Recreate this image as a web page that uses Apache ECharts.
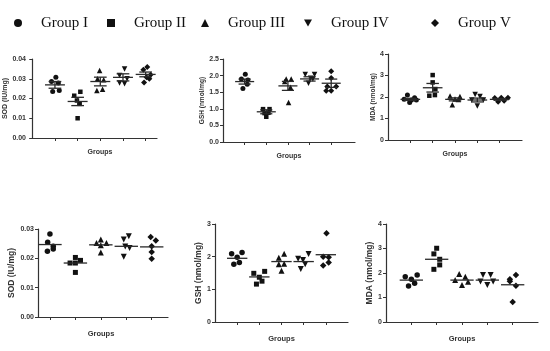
<!DOCTYPE html>
<html>
<head>
<meta charset="utf-8">
<script src="https://cdn.jsdelivr.net/npm/echarts@6/dist/echarts.min.js"></script>
<style>html,body{margin:0;padding:0;background:#fff}#c{width:550px;height:351px}</style>
</head>
<body>
<div id="c"></div>
<script>
// ---------- data ----------
const groups = ['Group I', 'Group II', 'Group III', 'Group IV', 'Group V'];
const xTicks = [1, 2, 3, 4, 5];

const sodTopVals = [[0.0307,0.0286,0.0278,0.0236,0.0241],[0.0234,0.0214,0.0190,0.0173,0.0100],[0.0342,0.0300,0.0295,0.0240,0.0247],[0.0349,0.0317,0.0300,0.0278,0.0275],[0.0360,0.0346,0.0320,0.0307,0.0300,0.0281]];
const sodTopJit  = [[0.04,-0.15,0.15,-0.1,0.19],[0.12,-0.15,-0.03,0.09,0],[-0.03,-0.12,0.15,-0.15,0.1],[0.07,-0.15,0.18,-0.15,0.07],[0.07,-0.1,0.22,0.04,0.16,-0.07]];
const sodTopMean = [0.0269,0.0185,0.0286,0.0307,0.0322];
const sodTopSem  = [0.0017,0.0021,0.0022,0.0018,0.0012];

const gshTopVals = [[2.04,1.90,1.87,1.74,1.61],[0.99,0.99,0.87,0.88,0.76],[1.90,1.90,1.82,1.65,1.19],[2.03,2.03,1.92,1.77,1.90],[2.13,1.93,1.67,1.67,1.54,1.54]];
const gshTopJit  = [[0.03,-0.15,0.15,0.12,-0.08],[-0.15,0.15,-0.08,0.1,0],[-0.08,0.15,-0.15,0.12,0.03],[-0.2,0.23,0.05,-0.05,0.15],[0,0,-0.18,0.23,0,-0.23]];
const gshTopMean = [1.82,0.91,1.69,1.90,1.77];
const gshTopSem  = [0.075,0.06,0.135,0.065,0.125];

const mdaTopVals = [[2.09,1.97,1.89,1.86,1.86,1.74],[3.02,2.68,2.37,2.06,2.09],[2.05,2.02,1.91,1.64,1.88],[2.12,2.02,1.86,1.86,1.58],[1.95,1.97,1.97,1.78,1.82]];
const mdaTopJit  = [[-0.13,0.19,-0.28,0.05,0.27,-0.03],[0,0,0.12,-0.15,0.1],[-0.22,0.22,0,-0.12,0.15],[-0.1,0.12,-0.25,0.27,0],[-0.22,0.07,0.37,-0.07,0.2]];
const mdaTopMean = [1.89,2.43,1.89,1.86,1.89];
const mdaTopSem  = [0.05,0.2,0.07,0.09,0.04];

const sodBotVals = [[0.0283,0.0255,0.0241,0.0232,0.0224],[0.0203,0.0193,0.0184,0.0184,0.0152],[0.0264,0.0252,0.0252,0.0245,0.0220],[0.0275,0.0264,0.0235,0.0240,0.0205],[0.0273,0.0261,0.0241,0.0222,0.0199]];
const sodBotJit  = [[0,-0.09,0.13,0.13,-0.1],[0,0.2,-0.21,0,0],[0,-0.17,0.22,0,0],[0.1,-0.1,0.13,-0.04,-0.1],[-0.04,0.16,0,0,0]];
const sodBotMean = [0.0247,0.0184,0.0246,0.0241,0.0239];

const gshBotVals = [[2.09,2.13,1.98,1.77,1.82],[1.49,1.55,1.37,1.25,1.16],[1.97,2.09,1.77,1.78,1.57],[1.94,1.90,2.08,1.77,1.62],[2.72,2.00,1.98,1.82,1.73]];
const gshBotJit  = [[-0.25,0.22,0,-0.15,0.1],[-0.25,0.24,0,0.12,-0.13],[-0.12,0.12,-0.12,0.12,0],[-0.25,-0.03,0.22,0.07,-0.13],[0.03,-0.12,0.13,0.13,-0.12]];
const gshBotMean = [1.95,1.38,1.85,1.85,2.06];

const mdaBotVals = [[1.85,1.92,1.74,1.58,1.47],[3.01,2.78,2.56,2.33,2.15],[1.96,1.85,1.71,1.64,1.51],[1.92,1.92,1.65,1.65,1.51],[1.74,1.66,1.92,1.48,0.82]];
const mdaBotJit  = [[-0.24,0.23,0,0.13,-0.11],[0,-0.11,0.12,0.12,-0.11],[-0.11,0.13,-0.27,0.24,0],[-0.17,0.13,-0.27,0.23,0],[-0.11,-0.11,0.13,0.13,0]];
const mdaBotMean = [1.71,2.56,1.71,1.71,1.52];

// ---------- layout / style ----------
const symbols = ['circle', 'rect', 'triangle', 'path://M0,0L10,0L5,9Z', 'diamond'];
const symSizeTop = [5, 4.5, 5.5, 5.5, 6];
const symSizeBot = [5.5, 5, 6, 6, 6.5];

const panels = [
  {vals: sodTopVals, jit: sodTopJit, mean: sodTopMean, sem: sodTopSem, name: 'SOD (IU/mg)',
   left: 30, top: 59, width: 127, height: 79, xMin: -0.1, xMax: 5.5, yMax: 0.04, yInt: 0.01, dec: 2,
   nameGap: 15, nameSize: 7, gGap: 11, gShift: 13, sym: symSizeTop},
  {vals: gshTopVals, jit: gshTopJit, mean: gshTopMean, sem: gshTopSem, name: 'GSH (nmol/mg)',
   left: 223, top: 59, width: 132, height: 83, xMin: 0, xMax: 6.1, yMax: 2.5, yInt: 0.5, dec: 1,
   nameGap: 14, nameSize: 6.5, gGap: 11, gShift: 0, sym: symSizeTop},
  {vals: mdaTopVals, jit: mdaTopJit, mean: mdaTopMean, sem: mdaTopSem, name: 'MDA (nmol/mg)',
   left: 388, top: 54, width: 134, height: 86, xMin: 0, xMax: 6, yMax: 4, yInt: 1, dec: 0,
   nameGap: 11.5, nameSize: 6.5, gGap: 11, gShift: 0, sym: symSizeTop},
  {vals: sodBotVals, jit: sodBotJit, mean: sodBotMean, sem: null, name: 'SOD (IU/mg)',
   left: 38, top: 229, width: 130, height: 88, xMin: 0.53, xMax: 5.64, yMax: 0.03, yInt: 0.01, dec: 2,
   nameGap: 19, nameSize: 8.5, gGap: 13, gShift: -4, sym: symSizeBot},
  {vals: gshBotVals, jit: gshBotJit, mean: gshBotMean, sem: null, name: 'GSH (nmol/mg)',
   left: 215, top: 224, width: 133, height: 98, xMin: 0, xMax: 6, yMax: 3, yInt: 1, dec: 0,
   nameGap: 11, nameSize: 8.5, gGap: 13, gShift: 0, sym: symSizeBot},
  {vals: mdaBotVals, jit: mdaBotJit, mean: mdaBotMean, sem: null, name: 'MDA (nmol/mg)',
   left: 386, top: 224, width: 152, height: 98, xMin: 0, xMax: 6, yMax: 4, yInt: 1, dec: 0,
   nameGap: 10, nameSize: 8.5, gGap: 13, gShift: 0, sym: symSizeBot}
];

const FONT = '"Liberation Sans", Arial, sans-serif';
const axisCol = '#333';

const grid = [], xAxis = [], yAxis = [], series = [];
panels.forEach((p, i) => {
  grid.push({left: p.left, top: p.top, width: p.width, height: p.height, outerBoundsMode: 'none', containLabel: false});
  xAxis.push({
    type: 'value', gridIndex: i, min: p.xMin, max: p.xMax,
    name: 'Groups', nameLocation: 'middle', nameGap: p.gGap,
    nameTextStyle: {fontFamily: FONT, fontWeight: 'bold', fontSize: i < 3 ? 7 : 7.5, color: '#333',
      padding: p.gShift >= 0 ? [0, 0, 0, p.gShift] : [0, -p.gShift, 0, 0]},
    axisLine: {show: true, lineStyle: {color: axisCol, width: 1.2}},
    axisTick: {show: true, length: 3, lineStyle: {color: axisCol}, customValues: xTicks},
    axisLabel: {show: false}, splitLine: {show: false}
  });
  yAxis.push({
    type: 'value', gridIndex: i, min: 0, max: p.yMax, interval: p.yInt,
    name: p.name, nameLocation: 'middle', nameGap: p.nameGap, nameRotate: 90,
    nameTextStyle: {fontFamily: FONT, fontWeight: 'bold', fontSize: p.nameSize, color: '#333'},
    axisLine: {show: true, lineStyle: {color: axisCol, width: 1.2}},
    axisTick: {show: true, length: 3, lineStyle: {color: axisCol}},
    axisLabel: {fontFamily: FONT, fontWeight: 'bold', fontSize: 7, color: '#333', margin: 4,
      formatter: v => v.toFixed(p.dec)},
    splitLine: {show: false}
  });
  p.vals.forEach((arr, g) => {
    series.push({
      type: 'scatter', name: groups[g], xAxisIndex: i, yAxisIndex: i,
      symbol: symbols[g], symbolSize: p.sym[g],
      itemStyle: {color: '#111', opacity: 1},
      emphasis: {disabled: true}, silent: true, z: 3,
      data: arr.map((v, k) => [xTicks[g] + p.jit[g][k], v])
    });
  });
  const hasSem = !!p.sem;
  series.push({
    type: 'custom', xAxisIndex: i, yAxisIndex: i, silent: true, z: 4,
    encode: {x: 0, y: 1},
    data: p.mean.map((m, g) => [xTicks[g], m, hasSem ? p.sem[g] : 0]),
    renderItem: function (params, api) {
      const x = api.value(0), m = api.value(1), s = api.value(2);
      const c = api.coord([x, m]);
      const unit = api.size([1, 0])[0];
      const hw = (hasSem ? 0.44 : 0.46) * unit;
      const st = {stroke: '#2a2a2a', lineWidth: 1.3};
      const ch = [{type: 'line', shape: {x1: c[0] - hw, y1: c[1], x2: c[0] + hw, y2: c[1]}, style: st}];
      if (hasSem) {
        const t = api.coord([x, m + s]), b = api.coord([x, m - s]);
        const cw = 0.28 * unit;
        ch.push({type: 'line', shape: {x1: c[0], y1: t[1], x2: c[0], y2: b[1]}, style: st});
        ch.push({type: 'line', shape: {x1: c[0] - cw, y1: t[1], x2: c[0] + cw, y2: t[1]}, style: st});
        ch.push({type: 'line', shape: {x1: c[0] - cw, y1: b[1], x2: c[0] + cw, y2: b[1]}, style: st});
      }
      return {type: 'group', children: ch};
    }
  });
});

const legendLefts = [9, 102, 196, 299, 426];
const legend = groups.map((g, k) => ({
  data: [g], left: legendLefts[k], top: 9, orient: 'horizontal',
  itemWidth: 8, itemHeight: 8, selectedMode: false,
  textStyle: {fontFamily: '"Liberation Serif", "Times New Roman", serif', fontSize: 15, color: '#111',
    padding: [0, 0, 0, 14], lineHeight: 18}
}));

const chart = echarts.init(document.getElementById('c'), null, {renderer: 'canvas'});
chart.setOption({
  animation: false,
  backgroundColor: '#fff',
  legend: legend,
  grid: grid, xAxis: xAxis, yAxis: yAxis, series: series
});
</script>
</body>
</html>
